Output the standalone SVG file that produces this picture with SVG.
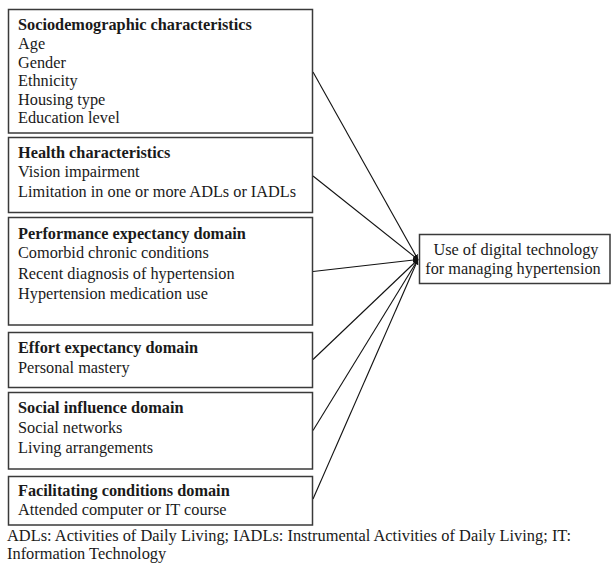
<svg xmlns="http://www.w3.org/2000/svg" width="611" height="564" viewBox="0 0 611 564">
<style>
  .box { fill: #fff; stroke: #3a3a3a; stroke-width: 1.5; }
  .t { font-family: "Liberation Serif", "Times New Roman", serif; font-size: 16.3px; fill: #1a1a1a; }
  .h { font-weight: bold; }
  .f { font-size: 16.4px; }
  .c { fill: none; stroke: #111; stroke-width: 1.1; marker-end: url(#ah); }
</style>
<defs>
  <marker id="ah" viewBox="0 0 6 6" refX="6" refY="3" markerWidth="5" markerHeight="5" orient="auto" markerUnits="userSpaceOnUse">
    <path d="M0,0 L6,3 L0,6 z" fill="#111"/>
  </marker>
</defs>
<rect width="611" height="564" fill="#fff"/>
<g id="connectors">
  <line class="c" x1="313" y1="72" x2="418" y2="259.5"/>
  <line class="c" x1="313" y1="176" x2="418" y2="259.5"/>
  <line class="c" x1="313" y1="271.5" x2="418" y2="259.5"/>
  <line class="c" x1="313" y1="359.5" x2="418" y2="259.5"/>
  <line class="c" x1="313" y1="430.5" x2="418" y2="259.5"/>
  <line class="c" x1="313" y1="499" x2="418" y2="259.5"/>
</g>
<g id="sociodemographic">
  <rect class="box" x="8.5" y="9.5" width="304" height="123.5"/>
  <text class="t h" x="18" y="30">Sociodemographic characteristics</text>
  <text class="t" x="18" y="49">Age</text>
  <text class="t" x="18" y="67.5">Gender</text>
  <text class="t" x="18" y="86">Ethnicity</text>
  <text class="t" x="18" y="104.5">Housing type</text>
  <text class="t" x="18" y="123">Education level</text>
</g>
<g id="health">
  <rect class="box" x="8.5" y="137.5" width="304" height="75"/>
  <text class="t h" x="18" y="158">Health characteristics</text>
  <text class="t" x="18" y="177">Vision impairment</text>
  <text class="t" x="18" y="197">Limitation in one or more ADLs or IADLs</text>
</g>
<g id="performance">
  <rect class="box" x="8.5" y="217.5" width="304" height="107.5"/>
  <text class="t h" x="18" y="238.5">Performance expectancy domain</text>
  <text class="t" x="18" y="258">Comorbid chronic conditions</text>
  <text class="t" x="18" y="278.5">Recent diagnosis of hypertension</text>
  <text class="t" x="18" y="298.5">Hypertension medication use</text>
</g>
<g id="effort">
  <rect class="box" x="8.5" y="332.5" width="304" height="55"/>
  <text class="t h" x="18" y="353">Effort expectancy domain</text>
  <text class="t" x="18" y="373">Personal mastery</text>
</g>
<g id="social">
  <rect class="box" x="8.5" y="392.5" width="304" height="76.5"/>
  <text class="t h" x="18" y="413">Social influence domain</text>
  <text class="t" x="18" y="433">Social networks</text>
  <text class="t" x="18" y="453">Living arrangements</text>
</g>
<g id="facilitating">
  <rect class="box" x="8.5" y="476.5" width="304" height="48.5"/>
  <text class="t h" x="18" y="496">Facilitating conditions domain</text>
  <text class="t" x="18" y="515">Attended computer or IT course</text>
</g>
<g id="outcome">
  <rect class="box" x="419.5" y="234.5" width="190.5" height="49"/>
  <text class="t" x="516" y="255" text-anchor="middle">Use of digital technology</text>
  <text class="t" x="513" y="274" text-anchor="middle">for managing hypertension</text>
</g>
<g id="footnote">
  <text class="t f" x="7" y="541">ADLs: Activities of Daily Living; IADLs: Instrumental Activities of Daily Living; IT:</text>
  <text class="t f" x="7" y="559">Information Technology</text>
</g>
</svg>
